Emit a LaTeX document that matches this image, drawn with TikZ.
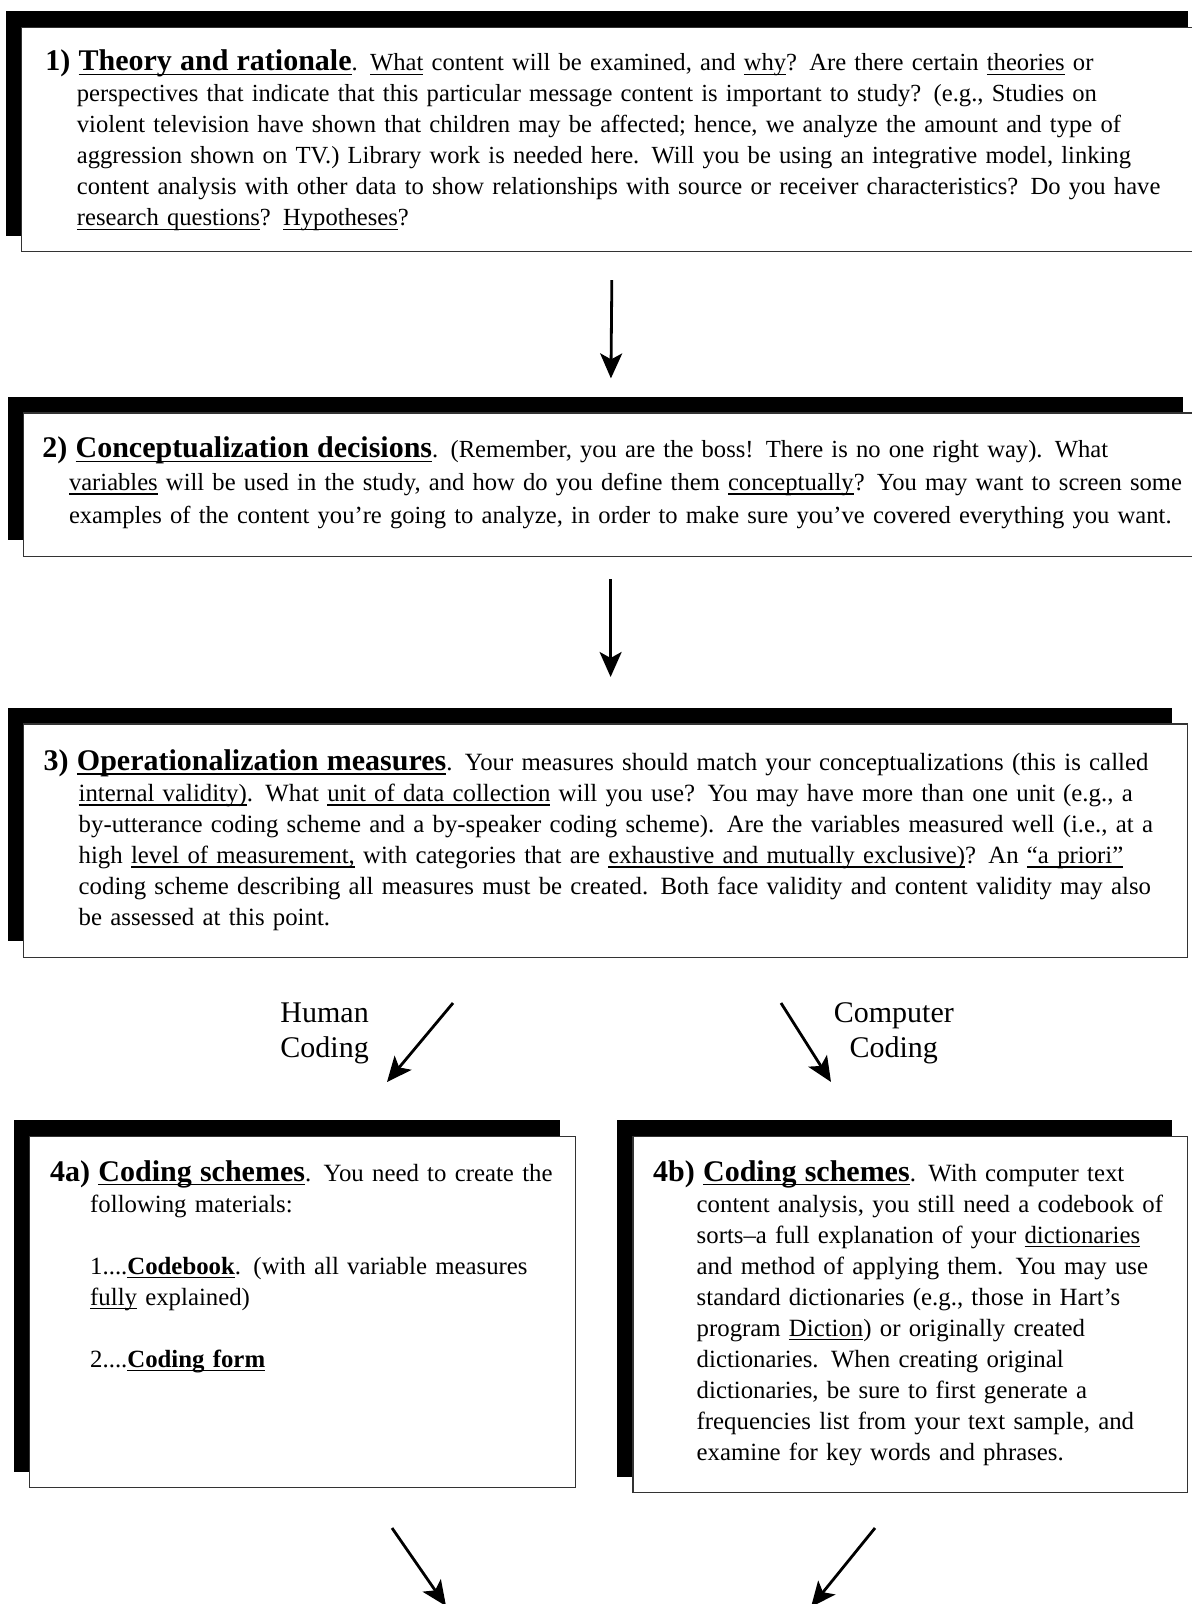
\documentclass[tikz,border=0pt]{standalone}
\usepackage{fontspec}
\setmainfont{Liberation Serif}
\usetikzlibrary{arrows.meta,positioning,shadows}
\def \px {0.5pt}
\newlength{\stindw}
\newcommand{\stind}{\hspace*{\stindw}}
\newcommand{\stagehead}[1]{\textbf{\fontsize{15pt}{15.5pt}\selectfont #1}}
\newcommand{\uln}[1]{\setbox0\hbox{#1}\rlap{\vrule height -1.4pt depth 2.1pt width \wd0}\box0\relax}

\tikzset{
  stagebox/.style={draw=black!80, line width=0.6pt, fill=white, anchor=north west, inner sep=0pt,
    drop shadow={shadow xshift=-15.5*\px, shadow yshift=16*\px, fill=black, opacity=1}},
  stagetext/.style={anchor=base west, inner sep=0pt, text width=590pt, align=left,
    font=\fontsize{12.4pt}{15.5pt}\selectfont, execute at begin node={\setlength{\stindw}{#1}}},
  flowarrow/.style={-{Stealth[length=12.5pt,width=11pt,inset=3pt]}, line width=1.4pt},
  codinglabel/.style={align=center, font=\fontsize{15pt}{17.5pt}\selectfont},
}

\begin{document}
\begin{tikzpicture}[x=\px, y=-\px]
  \useasboundingbox (0,0) rectangle (1192,1604);
  \clip (0,0) rectangle (1192,1604);

  % stage boxes
  \node[stagebox, minimum width=1182*\px, minimum height=224.4*\px] (box1) at (20.5,26.6) {};
  \node[stagebox, minimum width=1175*\px, minimum height=143.2*\px] (box2) at (22.5,412.4) {};
  \node[stagebox, minimum width=1164.5*\px, minimum height=233.3*\px] (box3) at (22.5,723.4) {};
  \node[stagebox, minimum width=546.4*\px, minimum height=351.2*\px] (box4a) at (28.6,1135.8) {};
  \node[stagebox, minimum width=554.7*\px, minimum height=356.2*\px] (box4b) at (632.3,1135.8) {};

  % texts
  \node[stagetext=15.75pt, font=\fontsize{12.3pt}{15.5pt}\selectfont] (text1) at (45,71) {%
    \stagehead{1) \uln{Theory and rationale}}.  \uln{What} content will be examined, and \uln{why}?  Are there certain \uln{theories} or\\
    \stind perspectives that indicate that this particular message content is important to study?  (e.g., Studies on\\
    \stind violent television have shown that children may be affected; hence, we analyze the amount and type of\\
    \stind aggression shown on TV.)  Library work is needed here.  Will you be using an integrative model, linking\\
    \stind content analysis with other data to show relationships with source or receiver characteristics?  Do you have\\
    \stind \uln{research questions}?  \uln{Hypotheses}?};
  \node[stagetext=13.3pt, font=\fontsize{12.3pt}{16.35pt}\selectfont] (text2) at (42,458) {%
    \stagehead{2) \uln{Conceptualization decisions}}.  (Remember, you are the boss!  There is no one right way).  What\\
    \stind \uln{variables} will be used in the study, and how do you define them \uln{conceptually}?  You may want to screen some\\
    \stind examples of the content you’re going to analyze, in order to make sure you’ve covered everything you want.};
  \node[stagetext=17.5pt] (text3) at (43.3,770.5) {%
    \stagehead{3) \uln{Operationalization measures}}.  Your measures should match your conceptualizations (this is called\\
    \stind \uln{internal validity)}.  What \uln{unit of data collection} will you use?  You may have more than one unit (e.g., a\\
    \stind by-utterance coding scheme and a by-speaker coding scheme).  Are the variables measured well (i.e., at a\\
    \stind high \uln{level of measurement,} with categories that are \uln{exhaustive and mutually exclusive)}?  An \uln{“a priori”}\\
    \stind coding scheme  describing all measures must be created.  Both face validity and content validity may also\\
    \stind be assessed at this point.};
  \node[stagetext=20pt] (text4a) at (49.8,1181) {%
    \stagehead{4a) \uln{Coding schemes}}. You need to create the\\
    \stind following materials:\\[15.5pt]
    \stind 1....\textbf{\uln{Codebook}}. (with all variable measures\\
    \stind \uln{fully} explained)\\[15.5pt]
    \stind 2....\textbf{\uln{Coding form}}};
  \node[stagetext=21.75pt] (text4b) at (652.8,1181) {%
    \stagehead{4b) \uln{Coding schemes}}. With computer text\\
    \stind content analysis, you still need a codebook of\\
    \stind sorts–a full explanation of your \uln{dictionaries}\\
    \stind and method of applying them.  You may use\\
    \stind standard dictionaries (e.g., those in Hart’s\\
    \stind program \uln{Diction}) or originally created\\
    \stind dictionaries.  When creating original\\
    \stind dictionaries, be sure to first generate a\\
    \stind frequencies list from your text sample, and\\
    \stind examine for key words and phrases.};

  % arrows between stages
  \draw[flowarrow, shorten <=28*\px, shorten >=34*\px] (box1.south) -- (box2.north);
  \draw[flowarrow, shorten <=22.4*\px, shorten >=46.4*\px] (box2.south) -- (box2.south |- box3.north);

  \coordinate (h1) at (453,1003);
  \coordinate (h2) at (387,1082);
  \coordinate (c1) at (781,1003);
  \coordinate (c2) at (831,1082);
  \coordinate (l1) at (392,1528);
  \coordinate (l2) at (446,1606);
  \coordinate (r1) at (875,1528);
  \coordinate (r2) at (811,1607);
  \draw[flowarrow] (h1) -- (h2);
  \draw[flowarrow] (c1) -- (c2);
  \draw[flowarrow] (l1) -- (l2);
  \draw[flowarrow] (r1) -- (r2);

  \node[codinglabel] (human) at (324.6,1033.5) {Human\\Coding};
  \node[codinglabel] (computer) at (893.8,1033.5) {Computer\\Coding};
\end{tikzpicture}
\end{document}
